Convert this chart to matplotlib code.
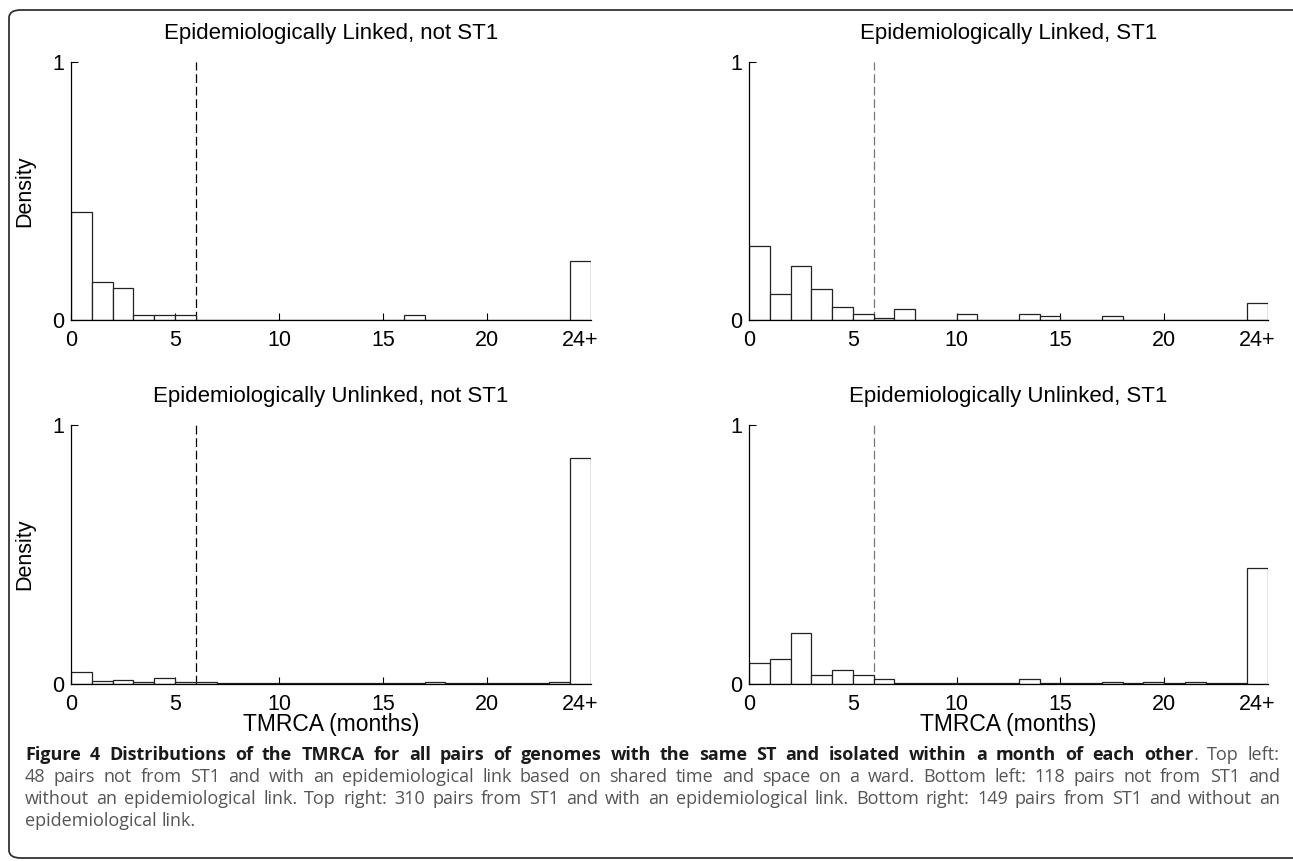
import matplotlib
matplotlib.use("Agg")
from matplotlib import pyplot as plt
from matplotlib.patches import FancyBboxPatch

# 直方图数据（密度，每个月一个区间，最后一个区间是 24+）
bins = list(range(25))
linked_not_st1 = [0.417, 0.146, 0.123, 0.021, 0.021, 0.021, 0, 0, 0, 0, 0, 0, 0,
                  0, 0, 0, 0.021, 0, 0, 0, 0, 0, 0, 0, 0.228]
linked_st1 = [0.288, 0.101, 0.210, 0.119, 0.049, 0.025, 0.009, 0.041, 0, 0, 0.025, 0, 0,
              0.025, 0.017, 0, 0, 0.017, 0, 0, 0, 0, 0, 0, 0.067]
unlinked_not_st1 = [0.046, 0.010, 0.014, 0.008, 0.022, 0.008, 0.008, 0.002, 0.002, 0.002,
                    0.003, 0.002, 0.002, 0.003, 0.002, 0.002, 0.002, 0.008, 0.002, 0.002,
                    0.002, 0.002, 0.002, 0.008, 0.874]
unlinked_st1 = [0.081, 0.095, 0.196, 0.033, 0.054, 0.033, 0.021, 0.002, 0.002, 0.002,
                0.002, 0.002, 0.002, 0.021, 0.002, 0.002, 0.002, 0.006, 0.002, 0.006,
                0.002, 0.006, 0.002, 0.002, 0.449]

titles = ["Epidemiologically Linked, not ST1", "Epidemiologically Linked, ST1",
          "Epidemiologically Unlinked, not ST1", "Epidemiologically Unlinked, ST1"]
xtick_pos = [0, 5, 10, 15, 20, 24.5]
xtick_labels = ["0", "5", "10", "15", "20", "24+"]
cutoff = 6

caption_lines = [
    "**Figure 4 Distributions of the TMRCA for all pairs of genomes with the same ST and isolated within a month of each other**. Top left:",
    "48 pairs not from ST1 and with an epidemiological link based on shared time and space on a ward. Bottom left: 118 pairs not from ST1 and",
    "without an epidemiological link. Top right: 310 pairs from ST1 and with an epidemiological link. Bottom right: 149 pairs from ST1 and without an",
    "epidemiological link.",
]

W, H = 1293, 861
fig = plt.figure(figsize=(W / 100, H / 100), dpi=100)
plt.rcParams["font.family"] = ["Liberation Sans", "DejaVu Sans"]


def rect(x0, y0, x1, y1):
    # 像素坐标 -> figure 坐标
    return [x0 / W, 1 - y1 / H, (x1 - x0) / W, (y1 - y0) / H]


panels = [
    (rect(71, 62, 591, 320), linked_not_st1, "black", True, False),
    (rect(749, 62, 1268, 320), linked_st1, "#777777", False, False),
    (rect(71, 425, 591, 684), unlinked_not_st1, "black", True, True),
    (rect(749, 425, 1268, 684), unlinked_st1, "#777777", False, True),
]

for (pos, dens, dash_c, ylab, xlab), title in zip(panels, titles):
    ax = fig.add_axes(pos)
    ax.bar(bins, dens, width=1, align="edge", facecolor="white",
           edgecolor="#222222", linewidth=0.9, zorder=2)
    ax.plot([cutoff, cutoff], [0, 1], color=dash_c, linewidth=0.9,
            linestyle=(0, (7, 3)), zorder=1)
    ax.set_xlim(0, 25)
    ax.set_ylim(0, 1)
    ax.spines["top"].set_visible(False)
    ax.spines["right"].set_visible(False)
    for s in ("left", "bottom"):
        ax.spines[s].set_linewidth(0.9)
        ax.spines[s].set_zorder(3)
    ax.set_xticks(xtick_pos)
    ax.set_xticklabels(xtick_labels)
    ax.set_yticks([0, 1])
    ax.set_yticklabels(["0", "1"])
    ax.tick_params(axis="both", direction="in", length=5, width=0.8,
                   labelsize=15.5, pad=5)
    ax.tick_params(axis="x", pad=7)
    ax.text(0.5, 1 + 23 / 259, title, transform=ax.transAxes, ha="center",
            va="baseline", fontsize=16)
    if ylab:
        ax.set_ylabel("Density", fontsize=15.5)
        ax.yaxis.set_label_coords(-0.068, 0.5)
    if xlab:
        ax.set_xlabel("TMRCA (months)", fontsize=16.5, va="center")
        ax.xaxis.set_label_coords(0.5, -0.158)

# 外框（圆角）
box = FancyBboxPatch((9 / W, 1 - 858 / H), 1300 / W, 848 / H,
                     boxstyle="round,pad=0,rounding_size=0.009",
                     transform=fig.transFigure, facecolor="none",
                     edgecolor="#333333", linewidth=1.3, clip_on=False)
fig.patches.append(box)

# 图注：两端对齐，逐词放置
renderer = fig.canvas.get_renderer()
cap_font = ["Open Sans", "DejaVu Sans"]
cap_size = 13
left_px, right_px = 25, 1280
base_y = [760, 782, 804, 826]


def parse(line):
    words, bold = [], False
    for w in line.split(" "):
        segs = []
        parts = w.split("**")
        for i, p in enumerate(parts):
            if i > 0:
                bold = not bold
            if p:
                segs.append((p, bold))
        words.append(segs)
    return words


def seg_width(txt, bold):
    t = fig.text(0, 0, txt, fontsize=cap_size, family=cap_font,
                 fontweight="bold" if bold else "normal")
    w = t.get_window_extent(renderer).width
    t.remove()
    return w


for li, line in enumerate(caption_lines):
    words = parse(line)
    wlist = [[seg_width(s, b) for s, b in segs] for segs in words]
    total = sum(sum(ws) for ws in wlist)
    if li < len(caption_lines) - 1:
        gap = (right_px - left_px - total) / (len(words) - 1)
    else:
        gap = seg_width("a a", False) - seg_width("aa", False)
    x = left_px
    for segs, ws in zip(words, wlist):
        for (s, b), w in zip(segs, ws):
            fig.text(x / W, 1 - base_y[li] / H, s, fontsize=cap_size,
                     family=cap_font, fontweight="bold" if b else "normal",
                     color="#1a1a1a" if b else "#555555", va="baseline")
            x += w
        x += gap

plt.savefig("out.png", dpi=100)
